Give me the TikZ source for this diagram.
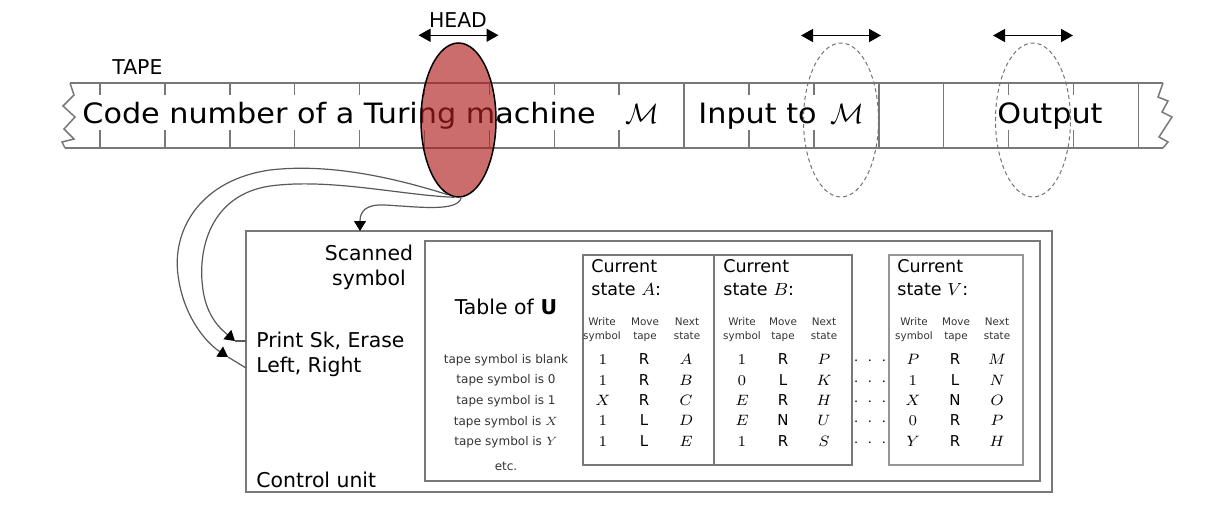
\RequirePackage{fix-cm}
\documentclass[tikz,border=0pt]{standalone}
\usepackage[no-math]{fontspec}
\setmainfont{DejaVu Sans}
\newfontfamily\tapefont[FakeStretch=1.08]{DejaVu Sans}
\usetikzlibrary{shapes.geometric,arrows.meta,calc}
\definecolor{lineg}{RGB}{120,120,120}
\definecolor{headred}{RGB}{175,30,30}
\definecolor{lightg}{RGB}{150,150,150}
\definecolor{dashg}{RGB}{115,115,115}
\newcommand\fsz[2]{\fontsize{#1}{#2}\selectfont}
\begin{document}
\begin{tikzpicture}[x=0.5pt,y=-0.5pt,
  tapeline/.style={draw=lineg, line width=0.75pt},
  tapetxt/.style={font=\tapefont\fsz{14}{16}, inner sep=0, anchor=base west},
  lbl/.style={font=\fsz{10.2}{12}, inner sep=0},
  cur/.style={font=\fsz{8.75}{10}, inner sep=0, anchor=base west},
  hdr/.style={font=\fsz{5.2}{6}, inner sep=0, anchor=base, text=black!80},
  dat/.style={font=\fsz{7.5}{8}, inner sep=0, anchor=base},
  rowl/.style={font=\fsz{6}{7}, inner sep=0, anchor=base, text=black!80},
  box/.style={draw=lineg, line width=0.75pt, rectangle, inner sep=0, outer sep=0, anchor=north west},
  dbl/.style={{Triangle[length=6pt,width=6.5pt]}-{Triangle[length=6pt,width=6.5pt]}, line width=0.75pt},
  flow/.style={draw=black!65, line width=0.6pt},
  tipped/.style={-{Triangle[length=5pt,width=6pt,color=black]}},
  headshape/.style={ellipse, inner sep=0, minimum width=37.5pt, minimum height=77pt}
]
\useasboundingbox (0,0) rectangle (1226,504);

% tape
\draw[tapeline] (70,83) -- (1163,83);
\draw[tapeline] (65,148) -- (1163,148);
\draw[tapeline] (70,83) -- (74,95) -- (63,106) -- (75,117) -- (64,129) -- (74,139) -- (62,142) -- (65,148);
\draw[tapeline] (1163,83) -- (1158,97) -- (1168,101) -- (1162,112) -- (1172,117) -- (1159,137) -- (1168,142) -- (1163,148);
\foreach \k in {0,1,2,3,4,5,6,7,8,10,11,14,15}{
  \draw[tapeline] ({100+64.9*\k},83) -- ({100+64.9*\k},95);
  \draw[tapeline] ({100+64.9*\k},130) -- ({100+64.9*\k},148);
}
\foreach \k in {9,12,13,16}{
  \draw[tapeline] ({100+64.9*\k},83) -- ({100+64.9*\k},148);
}

\node[tapetxt] (t1) at (82,123) {Code number of a Turing machine};
\node[tapetxt, anchor=base] (m1) at (642,123) {$\mathcal{M}$};
\node[tapetxt] (t2) at (698,123) {Input to};
\node[tapetxt, anchor=base] (m2) at (847,123) {$\mathcal{M}$};
\node[tapetxt, anchor=base] (t3) at (1050,123) {Output};
\node[lbl, anchor=base west] (tapel) at (112,74) {TAPE};
\node[lbl, anchor=base] (headl) at (458,27) {HEAD};

% heads
\node[headshape, draw=black, line width=0.75pt, fill=headred, fill opacity=0.65] (head) at (458.5,120) {};
\node[headshape, draw=dashg, dash pattern=on 2pt off 1.5pt, line width=0.5pt] (h2) at (841,120) {};
\node[headshape, draw=dashg, dash pattern=on 2pt off 1.5pt, line width=0.5pt] (h3) at (1033,120) {};
\draw[dbl] ($(head.north)+(-40,-7)$) -- ($(head.north)+(40,-7)$);
\draw[dbl] ($(h2.north)+(-40,-7)$) -- ($(h2.north)+(40,-7)$);
\draw[dbl] ($(h3.north)+(-40,-7)$) -- ($(h3.north)+(40,-7)$);

% control unit
\node[box, minimum width=403pt, minimum height=130.5pt] (cu) at (246,231) {};
\node[box, minimum width=307.5pt, minimum height=120pt] (tbl) at (425,241) {};
\node[box, minimum width=65.5pt, minimum height=105pt] (bA) at (583,255) {};
\node[box, minimum width=69pt, minimum height=105pt] (bB) at (714,255) {};
\node[box, draw=lightg, minimum width=67pt, minimum height=105pt] (bV) at (889,255) {};

\node[lbl, anchor=base] (sc1) at (369,260) {Scanned};
\node[lbl, anchor=base] (sc2) at (369,285) {symbol};
\node[lbl, anchor=base west] (pr) at (256,347) {Print Sk, Erase};
\node[lbl, anchor=base west] (lr) at (256,372) {Left, Right};
\node[lbl, anchor=base west] (cul) at (256,487) {Control unit};
\node[lbl, anchor=base] (tou) at (506,314) {Table of \textbf{U}};

\foreach \t [count=\i] in {blank,0,1,$X$,$Y$}{
  \node[rowl] (rl\i) at (506,{342.6+20.6*\i}) {tape symbol is \t};
}
\node[rowl] (etc) at (506,470) {etc.};

% state headings
\foreach \nm/\x/\s in {A/591/A, B/723/B, V/897/V}{
  \node[cur] (cc\nm) at (\x,272) {Current};
  \node[cur] (cs\nm) at (\x,295) {state $\s$:};
}
\foreach \nm/\a/\b/\c in {A/602/645/687, B/742/783/824, V/914/956/997}{
  \node[hdr] (hw\nm) at (\a,325) {Write};
  \node[hdr] (hs\nm) at (\a,339) {symbol};
  \node[hdr] (hm\nm) at (\b,325) {Move};
  \node[hdr] (ht\nm) at (\b,339) {tape};
  \node[hdr] (hn\nm) at (\c,325) {Next};
  \node[hdr] (hx\nm) at (\c,339) {state};
}
% data
\foreach \w/\m/\n [count=\i] in {1/R/A, 1/R/B, X/R/C, 1/L/D, 1/L/E}{
  \node[dat] (dA\i a) at (603,{344.6+20.3*\i}) {$\w$};
  \node[dat] (dA\i b) at (644,{344.6+20.3*\i}) {\m};
  \node[dat] (dA\i c) at (686,{344.6+20.3*\i}) {$\n$};
}
\foreach \w/\m/\n [count=\i] in {1/R/P, 0/L/K, E/R/H, E/N/U, 1/R/S}{
  \node[dat] (dB\i a) at (742,{344.6+20.3*\i}) {$\w$};
  \node[dat] (dB\i b) at (783,{344.6+20.3*\i}) {\m};
  \node[dat] (dB\i c) at (824,{344.6+20.3*\i}) {$\n$};
  \node[dat] (dots\i) at (870,{344.6+20.3*\i}) {$\cdot\;\cdot\;\cdot$};
}
\foreach \w/\m/\n [count=\i] in {P/R/M, 1/L/N, X/N/O, 0/R/P, Y/R/H}{
  \node[dat] (dV\i a) at (913,{344.6+20.3*\i}) {$\w$};
  \node[dat] (dV\i b) at (955,{344.6+20.3*\i}) {\m};
  \node[dat] (dV\i c) at (997,{344.6+20.3*\i}) {$\n$};
}

% connectors
\coordinate (pin) at ($(cu.north west)+(0,110)$);
\coordinate (lin) at ($(cu.north west)+(0,137)$);
\coordinate (ptip) at (235,341);
\coordinate (ltip) at (228,357);
\coordinate (sin) at ($(cu.north west)+(114,0)$);
\draw[flow, tipped] (head.262) .. controls (395,178) and (330,163) .. (270,170)
   .. controls (200,180) and (172,230) .. (178,275)
   .. controls (183,315) and (205,342) .. (ltip);
\draw[flow] (ltip) -- (lin);
\draw[flow, tipped] (head.267) .. controls (400,195) and (330,178) .. (270,186)
   .. controls (210,195) and (197,250) .. (203,290)
   .. controls (207,318) and (222,330) .. (ptip);
\draw[flow] (ptip) -- (pin);
\draw[flow, tipped] (head.272) .. controls (458,212) and (420,207) .. (385,205)
   .. controls (365,204) and (360,212) .. (sin);
\end{tikzpicture}
\end{document}
